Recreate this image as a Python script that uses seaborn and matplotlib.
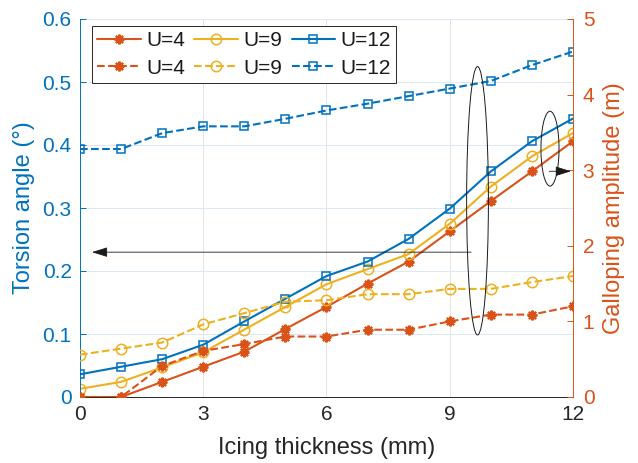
import matplotlib
matplotlib.use("Agg")
import matplotlib.pyplot as plt
import seaborn as sns
from matplotlib.patches import Ellipse
from matplotlib.ticker import FuncFormatter

# ---------------- data ----------------
thickness = [0, 1, 2, 3, 4, 5, 6, 7, 8, 9, 10, 11, 12]
torsion_u4 = [0, 0, 0.024, 0.048, 0.072, 0.108, 0.143, 0.180, 0.215, 0.263, 0.311, 0.358, 0.406]
torsion_u9 = [0.013, 0.024, 0.047, 0.071, 0.107, 0.143, 0.179, 0.203, 0.227, 0.275, 0.334, 0.382, 0.419]
torsion_u12 = [0.036, 0.048, 0.060, 0.083, 0.120, 0.156, 0.192, 0.215, 0.251, 0.299, 0.358, 0.406, 0.442]
gallop_u4 = [0, 0, 0.41, 0.61, 0.70, 0.80, 0.80, 0.89, 0.89, 1.00, 1.09, 1.09, 1.20]
gallop_u9 = [0.56, 0.64, 0.72, 0.96, 1.11, 1.26, 1.28, 1.36, 1.36, 1.43, 1.43, 1.52, 1.60]
gallop_u12 = [3.28, 3.28, 3.49, 3.58, 3.58, 3.68, 3.79, 3.88, 3.98, 4.08, 4.18, 4.39, 4.57]
labels = ["U=4", "U=9", "U=12"]
x_ticks = [0, 3, 6, 9, 12]
left_ticks = [0, 0.1, 0.2, 0.3, 0.4, 0.5, 0.6]
right_ticks = [0, 1, 2, 3, 4, 5]

BLUE = "#0072BD"
ORANGE = "#D95319"
YELLOW = "#EDB120"
DARK = "#262626"

sns.set_theme(style="white")
plt.rcParams["font.family"] = ["Liberation Sans", "DejaVu Sans"]

fig = plt.figure(figsize=(6.38, 4.63), dpi=100)
ax = fig.add_axes([80 / 638, 1 - 397 / 463, 493 / 638, 378 / 463])
ax2 = ax.twinx()

LW = 1.5
dash = (4.8, 3)
styles = [
    dict(color=ORANGE, marker=(8, 2, 0), markersize=7, markerfacecolor=ORANGE,
         markeredgecolor=ORANGE, markeredgewidth=1.6),
    dict(color=YELLOW, marker="o", markersize=7.5, markerfacecolor="none",
         markeredgecolor=YELLOW, markeredgewidth=1.1),
    dict(color=BLUE, marker="s", markersize=5.5, markerfacecolor="none",
         markeredgecolor=BLUE, markeredgewidth=1.1),
]

solid_series = [torsion_u4, torsion_u9, torsion_u12]
dash_series = [gallop_u4, gallop_u9, gallop_u12]

handles = []
for lab, ys, yd, st in zip(labels, solid_series, dash_series, styles):
    sns.lineplot(x=thickness, y=ys, ax=ax, linewidth=LW, label=lab, legend=False, **st)
    hs = ax.get_lines()[-1]
    sns.lineplot(x=thickness, y=yd, ax=ax2, linewidth=LW, label=lab, legend=False,
                 linestyle="--", dashes=dash, **st)
    hd = ax2.get_lines()[-1]
    handles += [hs, hd]

# ---------------- axes ----------------
ax.set_xlim(0, 12)
ax.set_ylim(0, 0.6)
ax2.set_ylim(0, 5)
ax.set_xticks(x_ticks)
ax.set_yticks(left_ticks)
ax2.set_yticks(right_ticks)
fmt = FuncFormatter(lambda v, p: "%g" % v)
ax.yaxis.set_major_formatter(fmt)
ax2.yaxis.set_major_formatter(fmt)

for a in (ax, ax2):
    a.spines["top"].set_visible(False)
    for s in a.spines.values():
        s.set_linewidth(0.7)
ax.spines["right"].set_visible(False)
ax2.spines["left"].set_visible(False)
ax2.spines["bottom"].set_visible(False)
ax.spines["left"].set_color(BLUE)
ax2.spines["right"].set_color(ORANGE)
ax.spines["bottom"].set_color(DARK)

ax.tick_params(axis="x", direction="in", length=4, width=0.7, color=DARK,
               labelcolor=DARK, labelsize=15, pad=6)
ax.tick_params(axis="y", direction="in", length=4, width=0.7, color=BLUE,
               labelcolor=BLUE, labelsize=15, pad=6, left=True)
ax2.tick_params(axis="y", direction="in", length=4, width=0.7, color=ORANGE,
                labelcolor=ORANGE, labelsize=15, pad=7, right=True)

ax.set_axisbelow(True)
ax.grid(axis="x", color="#e3e3e3", linewidth=0.7)
ax.grid(axis="y", color="#dbe8f3", linewidth=0.7)

ax.set_xlabel("Icing thickness (mm)", fontsize=17, color=DARK)
ax.set_ylabel("Torsion angle (°)", fontsize=17, color=BLUE)
ax2.set_ylabel("Galloping amplitude (m)", fontsize=17, color=ORANGE)
ax.xaxis.set_label_coords(0.5, -0.105)
ax.yaxis.set_label_coords(-0.092, 0.5)
ax2.yaxis.set_label_coords(1.061, 0.5)

# ---------------- annotations ----------------
ax2.add_patch(Ellipse((9.676, 2.596), 0.53, 3.55, fill=False, edgecolor="k", linewidth=0.7, zorder=5))
ax2.add_patch(Ellipse((11.44, 3.285), 0.44, 0.99, fill=False, edgecolor="k", linewidth=0.7, zorder=5))
ax2.annotate("", xy=(0.29, 1.916), xytext=(9.52, 1.916),
             arrowprops=dict(arrowstyle="-|>,head_length=0.8,head_width=0.25",
                             color="k", lw=0.6, shrinkA=0, shrinkB=0), zorder=5)
ax2.annotate("", xy=(11.95, 2.986), xytext=(11.42, 2.986),
             arrowprops=dict(arrowstyle="-|>,head_length=0.8,head_width=0.25",
                             color="k", lw=0.6, shrinkA=0, shrinkB=0), zorder=5)

leg = ax2.legend(handles=handles, labels=[h.get_label() for h in handles], ncol=3,
                 loc="upper left", bbox_to_anchor=(0.0243, 0.981), borderaxespad=0,
                 fontsize=15, handlelength=2.1, handletextpad=0.25, columnspacing=0.45,
                 labelspacing=0.4, borderpad=0.25, fancybox=False, framealpha=1,
                 edgecolor="#262626")
leg.get_frame().set_linewidth(0.7)
for t in leg.get_texts():
    t.set_color("k")

fig.savefig("out.png", dpi=100, facecolor="white")
